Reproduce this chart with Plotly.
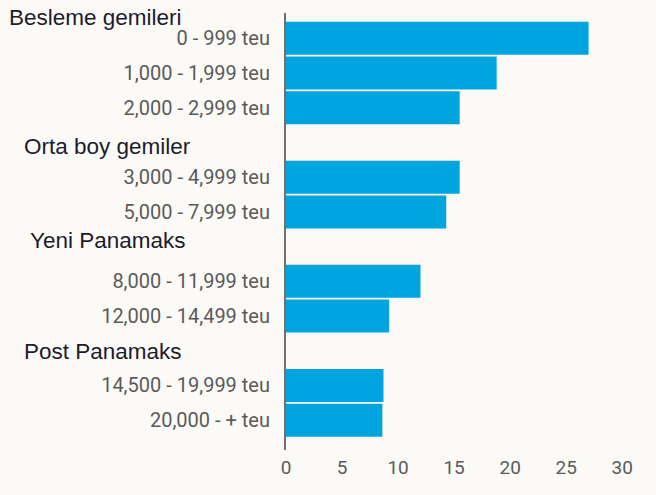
import plotly.graph_objects as go

# ship size classes, grouped, with share values
groups = ['Besleme gemileri', 'Orta boy gemiler', 'Yeni Panamaks', 'Post Panamaks']
group_of = [0, 0, 0, 1, 1, 2, 2, 3, 3]
labels = ['0 - 999 teu', '1,000 - 1,999 teu', '2,000 - 2,999 teu',
          '3,000 - 4,999 teu', '5,000 - 7,999 teu',
          '8,000 - 11,999 teu', '12,000 - 14,499 teu',
          '14,500 - 19,999 teu', '20,000 - + teu']
values = [27.0, 18.8, 15.5, 15.5, 14.3, 12.0, 9.2, 8.7, 8.6]
x_ticks = [0, 5, 10, 15, 20, 25, 30]

BAR = '#00A5DF'
BG = '#FCFAF7'

# category order: each group after the first gets an empty header slot
cats, ticktext = [], []
prev = 0
for lab, g in zip(labels, group_of):
    if g != prev:
        cats.append(groups[g])
        ticktext.append('')
        prev = g
    cats.append(lab)
    ticktext.append(lab)

fig = go.Figure(go.Bar(
    x=values, y=labels, orientation='h',
    marker=dict(color=BAR, line=dict(width=0)),
    hoverinfo='x+y'
))

W, H = 656, 495
ml, mr, mt, mb = 286, 17, 13, 45
pw = W - ml - mr

fig.update_layout(
    width=W, height=H,
    margin=dict(l=ml, r=mr, t=mt, b=mb),
    paper_bgcolor=BG, plot_bgcolor=BG,
    bargap=0.05,
    showlegend=False,
    font=dict(family='Roboto, Arial, sans-serif', size=20, color='#5a5a5a'),
)
fig.update_xaxes(range=[0, 31.5], tickvals=x_ticks, showgrid=False, zeroline=False,
                 showline=False, ticks='', ticklabelstandoff=4,
                 tickfont=dict(size=19))
fig.update_yaxes(type='category', categoryorder='array', categoryarray=cats,
                 tickvals=cats, ticktext=ticktext, range=[len(cats) - 0.14, -0.73],
                 showgrid=False, zeroline=False, showline=True,
                 linecolor='#707070', linewidth=2, ticks='', ticklabelstandoff=10)

# group headings, left aligned in the label column
head_pos = [(7, 21), (22, -4), (28, 6), (22, -1)]
for i, (name, (px, shift)) in enumerate(zip(groups, head_pos)):
    fig.add_annotation(
        text=name, xref='paper', x=(px - ml) / pw, xanchor='left',
        yref='y', y=labels[0] if i == 0 else name, yanchor='middle', yshift=shift,
        showarrow=False,
        font=dict(family='Arial, Liberation Sans, sans-serif', size=22.5, color='#1c1c2c'),
    )

# drop the page margin so the figure sits at the window corner
fig.write_html('out.html', config={'displayModeBar': False}, post_script=(
    "document.body.style.margin='0';"
    f"document.body.style.background='{BG}';"))
